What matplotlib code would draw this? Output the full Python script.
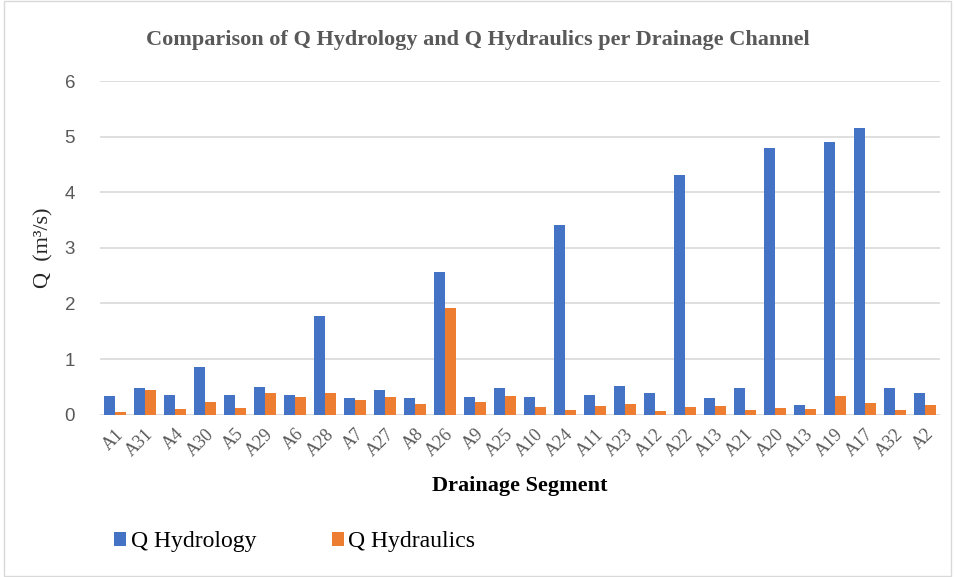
import numpy as np
import matplotlib.pyplot as plt
from matplotlib.patches import Rectangle

segments = ["A1", "A31", "A4", "A30", "A5", "A29", "A6", "A28", "A7", "A27",
            "A8", "A26", "A9", "A25", "A10", "A24", "A11", "A23", "A12", "A22",
            "A13", "A21", "A20", "A13", "A19", "A17", "A32", "A2"]
q_hydrology = [0.34, 0.48, 0.36, 0.85, 0.36, 0.50, 0.36, 1.77, 0.30, 0.45,
               0.30, 2.56, 0.32, 0.47, 0.32, 3.41, 0.36, 0.52, 0.38, 4.31,
               0.30, 0.47, 4.79, 0.18, 4.90, 5.15, 0.47, 0.39]
q_hydraulics = [0.05, 0.45, 0.10, 0.23, 0.12, 0.39, 0.32, 0.38, 0.27, 0.32,
                0.19, 1.92, 0.23, 0.34, 0.14, 0.09, 0.16, 0.19, 0.07, 0.14,
                0.16, 0.09, 0.12, 0.10, 0.34, 0.21, 0.09, 0.18]
yticks = [0, 1, 2, 3, 4, 5, 6]

BLUE = "#4472C4"
ORANGE = "#ED7D31"
GRAY = "#595959"
SERIF = "Liberation Serif"

fig = plt.figure(figsize=(9.55, 5.77), dpi=100)
ax = fig.add_axes([100 / 955, 1 - 414.6 / 577, 840 / 955, 333.6 / 577])

x = np.arange(len(segments))
w = 0.37
ax.bar(x - w / 2 - 0.01, q_hydrology, w, color=BLUE, label="Q Hydrology", zorder=3)
ax.bar(x + w / 2 + 0.01, q_hydraulics, w, color=ORANGE, label="Q Hydraulics", zorder=3)

ax.set_xlim(-0.5, len(segments) - 0.5)
ax.set_ylim(0, 6)
ax.set_yticks(yticks)
ax.set_yticklabels([str(t) for t in yticks], fontsize=13.5, color=GRAY,
                   family="Liberation Sans")
ax.set_xticks(x)
ax.set_xticklabels(segments, rotation=45, ha="right", rotation_mode="anchor",
                   fontsize=13, color=GRAY, family=SERIF)
ax.tick_params(length=0, axis="both")
ax.tick_params(axis="y", pad=18)
ax.tick_params(axis="x", pad=8)
ax.grid(True, axis="y", color="#D9D9D9", linewidth=1.2, zorder=0)
for s in ax.spines.values():
    s.set_visible(False)
ax.axhline(0, color="#D9D9D9", linewidth=1.2, zorder=2)

ax.set_ylabel("Q  (m\u00b3/s)", fontsize=16, family=SERIF, color="#262626", labelpad=8)
ax.set_xlabel("Drainage Segment", fontsize=16, family=SERIF, fontweight="bold",
              color="black", labelpad=12)

fig.text(0.5, 1 - 40 / 577, "Comparison of Q Hydrology and Q Hydraulics per Drainage Channel",
         ha="center", va="center", fontsize=16, fontweight="bold", color=GRAY,
         family=SERIF)

fig.legend(loc="center left", bbox_to_anchor=(93 / 955, 1 - 542 / 577), ncol=2,
           frameon=False, prop={"family": SERIF, "size": 17},
           handlelength=0.5, handleheight=0.5, handletextpad=0.2, columnspacing=3.2)

fig.patches.append(Rectangle((0.004, 0.002), 0.992, 0.996, transform=fig.transFigure,
                             fill=False, edgecolor="#D9D9D9", linewidth=1))

fig.savefig("out.png", dpi=100)
